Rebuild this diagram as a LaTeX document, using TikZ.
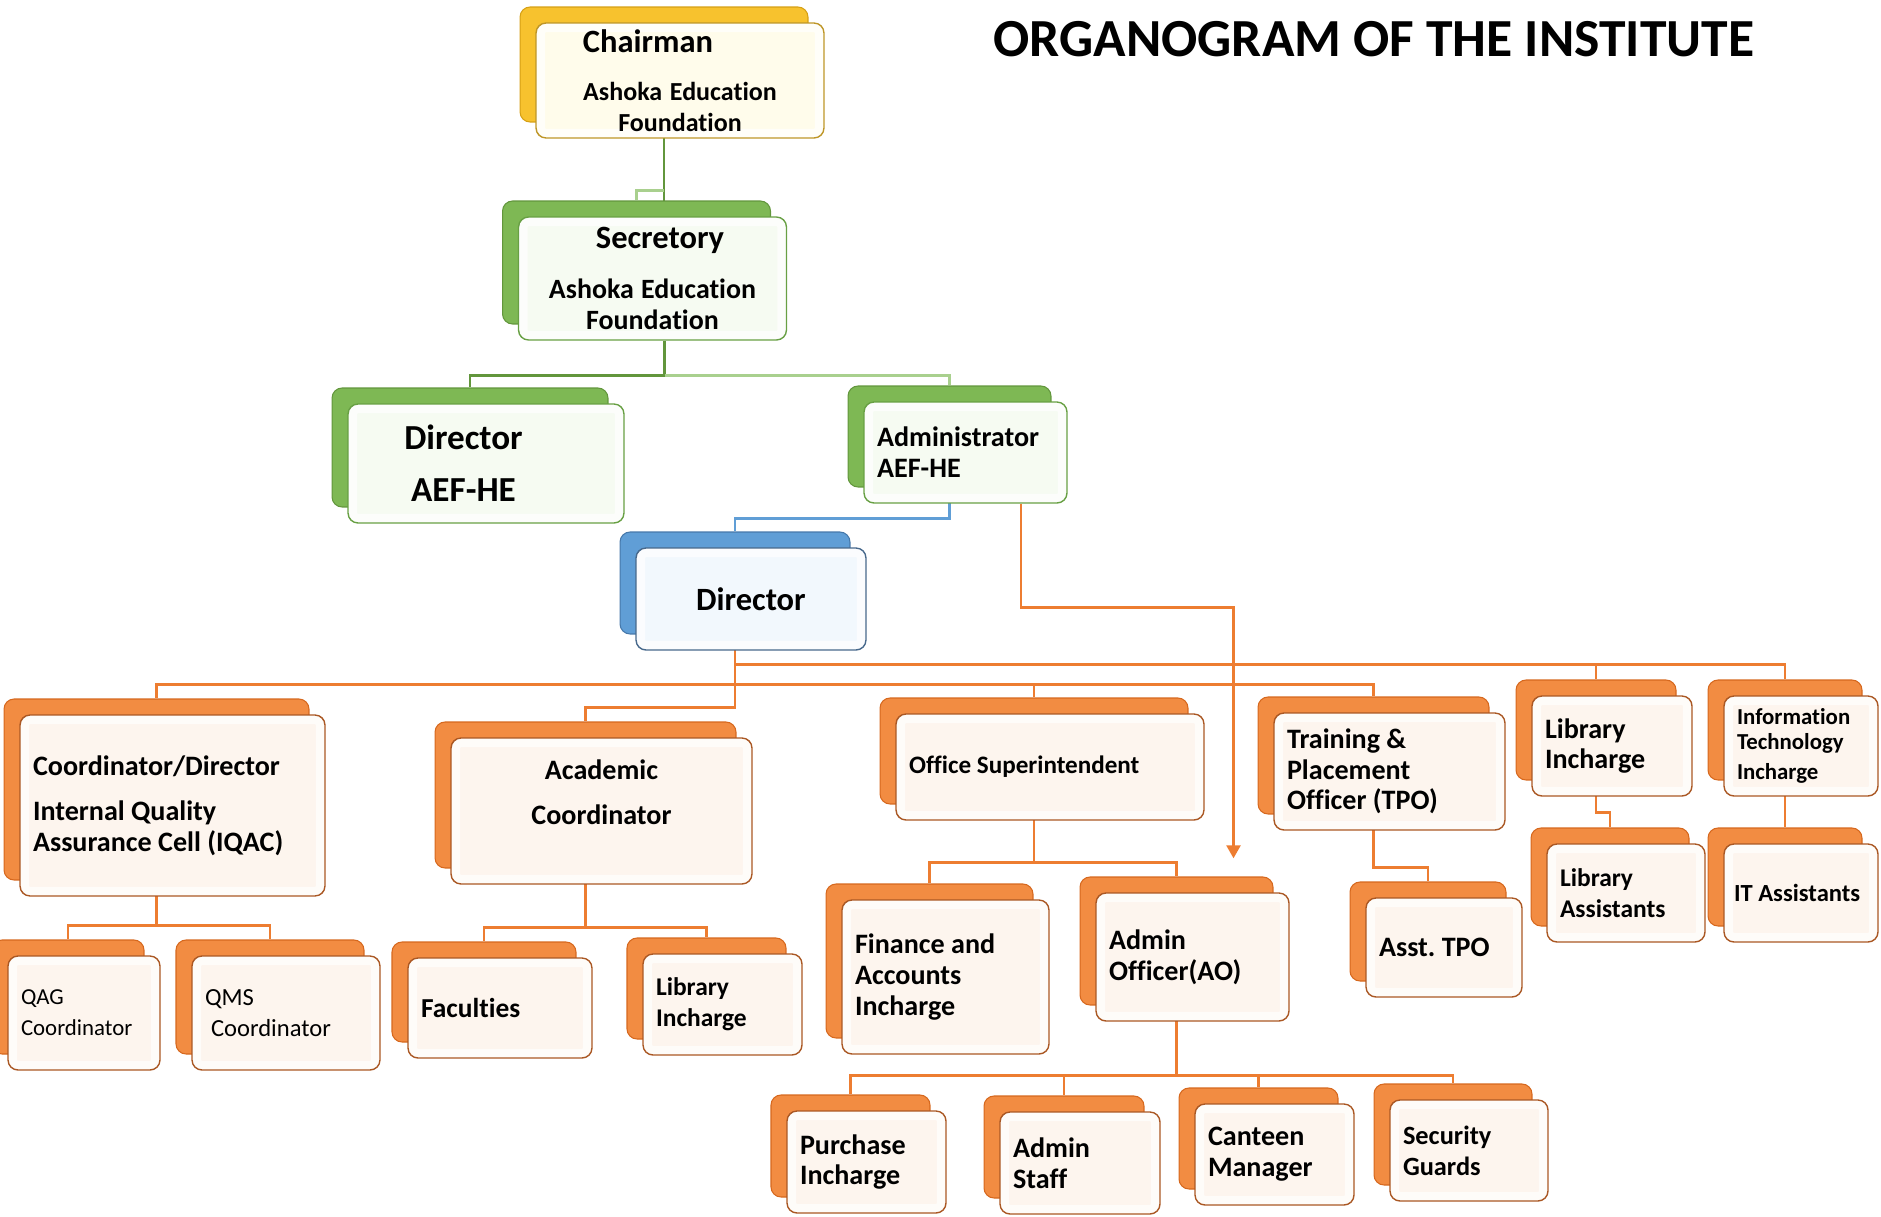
\documentclass[tikz,border=0pt]{standalone}
\usepackage{fontspec}
\setmainfont{Carlito}[Ligatures=NoCommon]
\definecolor{orgorange}{RGB}{242,140,66}
\definecolor{orgorangedark}{RGB}{214,104,30}
\definecolor{orgbrown}{RGB}{170,88,36}
\definecolor{orgcream}{RGB}{253,245,238}
\definecolor{orglink}{RGB}{237,125,49}
\definecolor{orggold}{RGB}{247,194,46}
\definecolor{orggolddark}{RGB}{214,160,20}
\definecolor{orggoldline}{RGB}{190,150,40}
\definecolor{orggoldcream}{RGB}{255,252,235}
\definecolor{orggreen}{RGB}{126,184,84}
\definecolor{orggreendark}{RGB}{98,150,60}
\definecolor{orggreenline}{RGB}{104,160,68}
\definecolor{orggreencream}{RGB}{246,251,242}
\definecolor{orggreenlight}{RGB}{169,208,142}
\definecolor{orgblue}{RGB}{96,158,214}
\definecolor{orgbluedark}{RGB}{70,120,170}
\definecolor{orgblueline}{RGB}{72,105,140}
\definecolor{orgbluecream}{RGB}{242,248,253}
\usetikzlibrary{positioning,shadows,backgrounds,arrows.meta}
\frenchspacing

\begin{document}
\begin{tikzpicture}[x=0.02cm,y=-0.02cm,
    every node/.style={rounded corners=0.2cm,line width=0.8pt,inner xsep=0.26cm,inner ysep=0pt,
      align=left,font=\bfseries\fontsize{16}{17.5}\selectfont,
      execute at begin node={\spaceskip=0pt\xspaceskip=0pt}},
    bevel/.style={path picture={\draw[white,line width=0.36cm,opacity=0.7]
      (path picture bounding box.south west) rectangle (path picture bounding box.north east);}},
    backbox/.style={general shadow={fill=#1,draw=#1dark,line width=0.6pt,shadow xshift=-0.32cm,shadow yshift=0.32cm}},
    orangebox/.style={draw=orgbrown,fill=orgcream,bevel,backbox=orgorange},
    goldbox/.style={draw=orggoldline,fill=orggoldcream,bevel,backbox=orggold},
    greenbox/.style={draw=orggreenline,fill=orggreencream,bevel,backbox=orggreen},
    bluebox/.style={draw=orgblueline,fill=orgbluecream,bevel,backbox=orgblue},
    sz/.style 2 args={text width=#1cm,minimum height=#2cm},
    bk/.style={shift={(-16,-16)}},
    orangelink/.style={draw=orglink,line width=1.4pt},
    greenlink/.style={draw=orggreendark,line width=1.4pt},
    greenlight/.style={draw=orggreenlight,line width=1.4pt},
    bluelink/.style={draw=orgblue,line width=1.4pt}
    ]
    \useasboundingbox (0,0) rectangle (1881,1217);

    \node[font=\bfseries\fontsize{30.5}{36}\selectfont,inner sep=0pt] (title) at (1374,39) {ORGANOGRAM OF THE INSTITUTE};

    % the foundation
    \node[goldbox,sz={5.24}{2.3},align=center] (chair) at (680,80.5)
      {\fontsize{18.5}{21}\selectfont\hspace*{-1.28cm}Chairman\\[11pt]\fontsize{14.8}{16.5}\selectfont Ashoka Education\\Foundation};
    \node[greenbox,sz={4.84}{2.46},align=center] (sec) at (652.5,278.5)
      {\fontsize{18.5}{21}\selectfont\hspace*{0.3cm}Secretory\\[12pt]\fontsize{15.9}{16.5}\selectfont Ashoka Education\\Foundation};
    \node[greenbox,sz={5.0}{2.38},align=center] (dirA) at (486,463.5)
      {\fontsize{20}{23}\selectfont\hspace*{-0.9cm}Director\\[12pt]\hspace*{-0.9cm}AEF-HE};
    \node[greenbox,sz={3.54}{2.02}] (adm) at (965.5,452.5) {Administrator\\AEF-HE};
    \node[bluebox,sz={4.08}{2.04},align=center] (dirB) at (751,599) {\fontsize{18.5}{21}\selectfont Director};

    % the left branch
    \node[orangebox,sz={5.58}{3.62}] (iqac) at (172.5,805.5) {Coordinator/Director\\[8pt]Internal Quality\\Assurance Cell (IQAC)};
    \node[orangebox,sz={5.5}{2.92},align=center] (acad) at (601.5,811) {Academic\\[8pt]Coordinator\\[4pt]\mbox{}};
    \node[orangebox,sz={2.52}{2.28}] (qag) at (84,1013) {\mdseries\fontsize{13}{14.8}\selectfont QAG\\Coordinator};
    \node[orangebox,sz={3.24}{2.28}] (qms) at (286,1013) {\mdseries\fontsize{14}{21.7}\selectfont QMS\\\hspace*{0.12cm}Coordinator};
    \node[orangebox,sz={3.16}{2.0}] (fac) at (500,1008) {\fontsize{15.6}{17.5}\selectfont Faculties};
    \node[orangebox,sz={2.66}{2.02}] (libB) at (722.5,1004.5) {\fontsize{14.5}{16}\selectfont Library\\Incharge};

    % the middle branch
    \node[orangebox,sz={5.64}{2.12}] (offsup) at (1050,767) {\fontsize{14.3}{17}\selectfont Office Superintendent};
    \node[orangebox,sz={3.62}{3.08}] (fin) at (945.5,977) {Finance and\\Accounts\\Incharge};
    \node[orangebox,sz={3.34}{2.56}] (ao) at (1192.5,957) {Admin\\Officer(AO)};
    \node[orangebox,sz={2.66}{2.04}] (pur) at (866.5,1162) {Purchase\\Incharge};
    \node[orangebox,sz={2.68}{2.04}] (astaff) at (1080,1163) {Admin\\Staff};
    \node[orangebox,sz={2.66}{2.02}] (cant) at (1274.5,1154.5) {Canteen\\Manager};
    \node[orangebox,sz={2.64}{2.02}] (secg) at (1469,1150.5) {\fontsize{15}{15.5}\selectfont Security\\Guards};

    % the right branch
    \node[orangebox,sz={4.1}{2.34}] (tpo) at (1389.5,771.5) {Training \&\\Placement\\Officer (TPO)};
    \node[orangebox,sz={2.6}{1.98}] (atpo) at (1444,947.5) {Asst. TPO};
    \node[orangebox,sz={2.68}{2.0}] (libA) at (1612,746) {Library\\Incharge};
    \node[orangebox,sz={2.56}{2.0}] (itinc) at (1801,746) {\fontsize{13}{14.2}\selectfont Information\\Technology\\Incharge};
    \node[orangebox,sz={2.64}{1.96}] (libAs) at (1626,893) {\fontsize{14.5}{16}\selectfont Library\\Assistants};
    \node[orangebox,sz={2.68}{1.96},inner xsep=0.2cm] (itas) at (1801,893) {\fontsize{14}{17}\selectfont IT Assistants};

    \begin{scope}[on background layer]
    % the foundation lines
    \draw[greenlink] ([bk]chair.south) -- ++(0,79);
    \draw[greenlight] ([bk]chair.south) ++(0,68) -| ([bk]sec.north);
    \draw[greenlink] ([xshift=0.24cm]sec.south) -- ++(0,35) -| ([bk]dirA.north);
    \draw[greenlight] ([xshift=0.24cm]sec.south) ++(0,35) -| ([bk]adm.north);
    \draw[bluelink] ([bk]adm.south) -- ++(0,31) -| ([bk]dirB.north);
    \draw[orangelink,-{Triangle[length=0.26cm,width=0.28cm]}] ([xshift=1.11cm]adm.south) -- ++(0,104) -| ([shift={(41,-34)}]ao.north);

    % the director
    \foreach \sub in {libA,itinc}
      \draw[orangelink] ([bk]dirB.south) -- ++(0,30) -| ([bk]\sub.north);
    \foreach \sub in {iqac,offsup,tpo}
      \draw[orangelink] ([bk]dirB.south) -- ++(0,50) -| ([bk]\sub.north);
    \draw[orangelink] ([bk]dirB.south) -- ++(0,73) -| ([bk]acad.north);

    % the sections
    \foreach \sub in {qag,qms}
      \draw[orangelink] ([bk]iqac.south) -- ++(0,45) -| ([bk]\sub.north);
    \foreach \sub in {fac,libB}
      \draw[orangelink] ([bk]acad.south) -- ++(0,59) -| ([bk]\sub.north);
    \foreach \sub in {fin,ao}
      \draw[orangelink] ([bk]offsup.south) -- ++(0,58) -| ([bk]\sub.north);
    \foreach \sub in {pur,astaff,cant,secg}
      \draw[orangelink] ([bk]ao.south) -- ++(0,70) -| ([bk]\sub.north);
    \draw[orangelink] ([bk]tpo.south) -- ++(0,53) -| ([bk]atpo.north);
    \draw[orangelink] ([bk]libA.south) -- ++(0,32) -| ([bk]libAs.north);
    \draw[orangelink] ([bk]itinc.south) -- ([bk]itas.north);
    \end{scope}
\end{tikzpicture}
\end{document}
